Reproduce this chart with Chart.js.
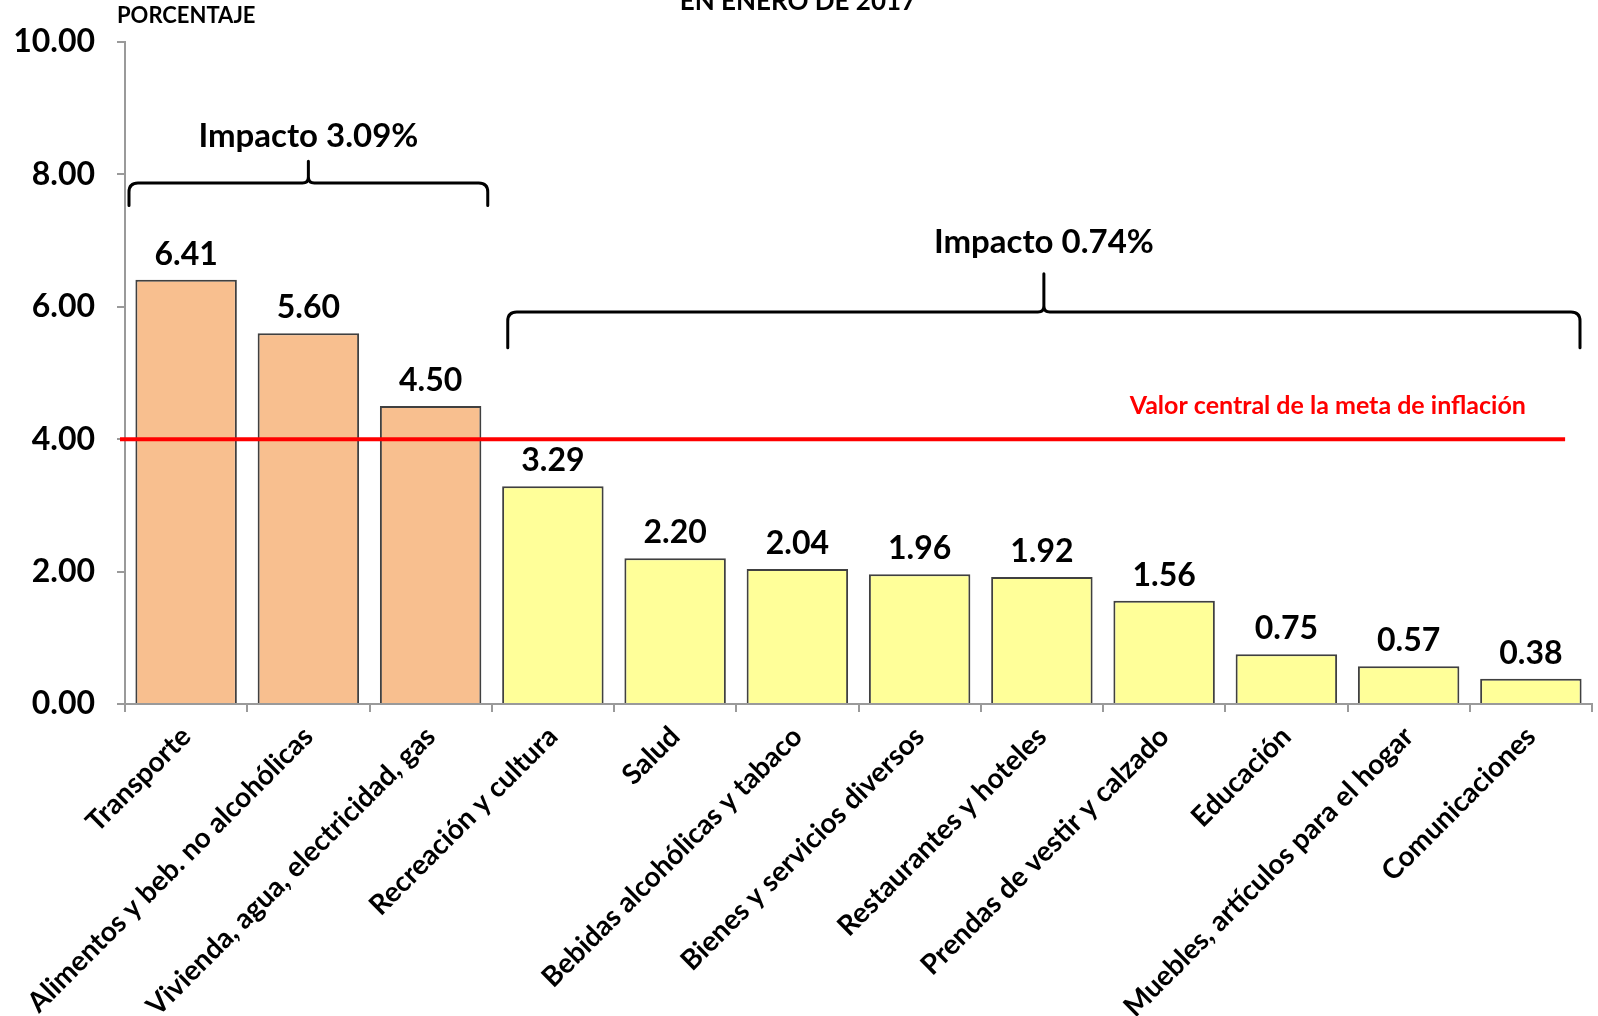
<!DOCTYPE html>
<html><head><meta charset="utf-8">
<script src="https://cdn.jsdelivr.net/npm/chart.js@4.4.1/dist/chart.umd.min.js"></script>
<style>html,body{margin:0;padding:0;background:#fff;} #wrap{width:1598px;height:1016px;position:relative;background:#fff;}</style>
</head><body><div id="wrap"><canvas id="c"></canvas></div>
<script>
// ---- data ----
const categories = [
  'Transporte',
  'Alimentos y beb. no alcohólicas',
  'Vivienda, agua, electricidad, gas',
  'Recreación y cultura',
  'Salud',
  'Bebidas alcohólicas y tabaco',
  'Bienes y servicios diversos',
  'Restaurantes y hoteles',
  'Prendas de vestir y calzado',
  'Educación',
  'Muebles, artículos para el hogar',
  'Comunicaciones'
];
const values = [6.41, 5.60, 4.50, 3.29, 2.20, 2.04, 1.96, 1.92, 1.56, 0.75, 0.57, 0.38];
const highGroup = [0, 1, 2];            // categories above target
const lowGroup = [3, 4, 5, 6, 7, 8, 9, 10, 11];
const yTickValues = [0, 2, 4, 6, 8, 10];
const metaInflacion = 4.0;
const impactA = 'Impacto 3.09%';
const impactB = 'Impacto 0.74%';
const metaLabel = 'Valor central de la meta de inflación';
const yTitle = 'PORCENTAJE';
const chartTitle = 'EN ENERO DE 2017';

const FONT = 'Lato, "Open Sans", sans-serif';
const ORANGE = '#F8BF8F';
const YELLOW = '#FFFF99';
const bg = categories.map((c, i) => highGroup.includes(i) ? ORANGE : YELLOW);

function brace(ctx, x1, x2, y, yEnd, yTip) {
  const xm = (x1 + x2) / 2, r = 9, t = 6;
  ctx.beginPath();
  ctx.moveTo(x1, yEnd);
  ctx.lineTo(x1, y + r);
  ctx.quadraticCurveTo(x1, y, x1 + r, y);
  ctx.lineTo(xm - t, y);
  ctx.quadraticCurveTo(xm, y, xm, y - t);
  ctx.lineTo(xm, yTip);
  ctx.moveTo(xm, y - t);
  ctx.quadraticCurveTo(xm, y, xm + t, y);
  ctx.lineTo(x2 - r, y);
  ctx.quadraticCurveTo(x2, y, x2, y + r);
  ctx.lineTo(x2, yEnd);
  ctx.stroke();
}

const annot = {
  id: 'annot',
  afterDatasetsDraw(chart) {
    const ctx = chart.ctx, xs = chart.scales.x, ys = chart.scales.y;
    const cw = xs.getPixelForValue(1) - xs.getPixelForValue(0);
    ctx.save();
    // red target line
    const yl = ys.getPixelForValue(metaInflacion);
    ctx.strokeStyle = '#FF0000';
    ctx.lineWidth = 4;
    ctx.beginPath();
    ctx.moveTo(chart.chartArea.left - 5, yl);
    ctx.lineTo(xs.getPixelForValue(categories.length - 1) + cw * 0.28, yl);
    ctx.stroke();
    ctx.fillStyle = '#FF0000';
    ctx.font = 'bold 25px ' + FONT;
    ctx.textAlign = 'right';
    ctx.textBaseline = 'alphabetic';
    ctx.fillText(metaLabel, xs.getPixelForValue(categories.length - 1) - 5, ys.getPixelForValue(4.38));

    // value labels
    ctx.fillStyle = '#000';
    ctx.font = 'bold 32px ' + FONT;
    ctx.textAlign = 'center';
    const meta = chart.getDatasetMeta(0);
    meta.data.forEach((bar, i) => {
      ctx.fillText(values[i].toFixed(2), bar.x, bar.y - 15);
    });

    // braces
    ctx.strokeStyle = '#000';
    ctx.lineWidth = 3;
    ctx.lineCap = 'round';
    ctx.lineJoin = 'round';
    const a1 = xs.getPixelForValue(highGroup[0]) - cw / 2 + 4;
    const a2 = xs.getPixelForValue(highGroup[highGroup.length - 1]) + cw / 2 - 4;
    brace(ctx, a1, a2, ys.getPixelForValue(7.87), ys.getPixelForValue(7.53), ys.getPixelForValue(8.2));
    const b1 = xs.getPixelForValue(lowGroup[0]) - cw / 2 + 16;
    const b2 = xs.getPixelForValue(lowGroup[lowGroup.length - 1]) + cw / 2 - 12;
    brace(ctx, b1, b2, ys.getPixelForValue(5.92), ys.getPixelForValue(5.38), ys.getPixelForValue(6.5));
    ctx.font = 'bold 33px ' + FONT;
    ctx.textBaseline = 'middle';
    ctx.fillText(impactA, (a1 + a2) / 2, ys.getPixelForValue(8.58));
    ctx.fillText(impactB, (b1 + b2) / 2, ys.getPixelForValue(6.98));

    // titles
    ctx.textBaseline = 'alphabetic';
    ctx.font = 'bold 22px ' + FONT;
    ctx.textAlign = 'left';
    ctx.fillText(yTitle, 117, 23);
    ctx.font = 'bold 26px ' + FONT;
    ctx.textAlign = 'center';
    ctx.fillText(chartTitle, 798, 10);
    ctx.restore();
  }
};

new Chart(document.getElementById('c'), {
  type: 'bar',
  data: {
    labels: categories,
    datasets: [{
      data: values,
      backgroundColor: bg,
      borderColor: '#404040',
      borderWidth: 2,
      barPercentage: 0.83,
      categoryPercentage: 1.0
    }]
  },
  options: {
    responsive: true,
    maintainAspectRatio: false,
    animation: false,
    devicePixelRatio: 1,
    layout: { padding: { top: 42, right: 6, left: 0, bottom: 0 } },
    plugins: { legend: { display: false }, tooltip: { enabled: false } },
    scales: {
      x: {
        afterFit(s) { s.height = 312; },
        grid: { offset: true, drawOnChartArea: false, drawTicks: true, tickLength: 8, color: '#9a9a9a', lineWidth: 2 },
        border: { color: '#9a9a9a', width: 2 },
        ticks: { minRotation: 45, maxRotation: 45, autoSkip: false, color: '#000', padding: 8,
                 font: { family: FONT, size: 28, weight: 'bold' } }
      },
      y: {
        min: 0, max: 10,
        afterFit(s) { s.width = 125; },
        afterBuildTicks(s) { s.ticks = yTickValues.map(v => ({ value: v })); },
        grid: { drawOnChartArea: false, drawTicks: true, tickLength: 8, color: '#9a9a9a', lineWidth: 2 },
        border: { color: '#9a9a9a', width: 2 },
        ticks: { color: '#000', padding: 22, font: { family: FONT, size: 32, weight: 'bold' },
                 callback: v => Number(v).toFixed(2) }
      }
    }
  },
  plugins: [annot]
});
</script>
</body></html>
